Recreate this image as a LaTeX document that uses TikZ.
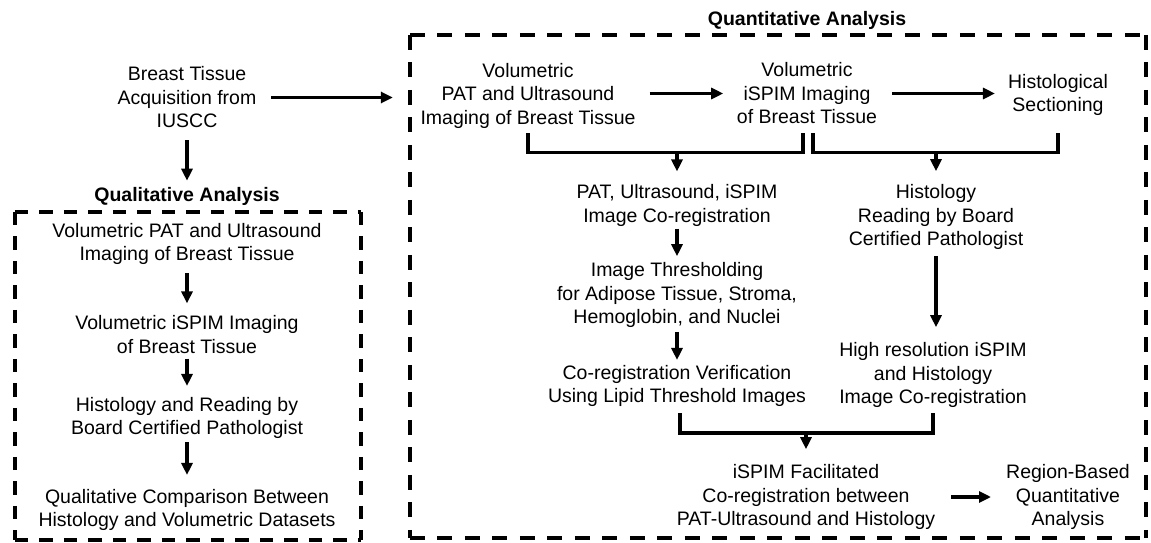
\documentclass[tikz,border=0pt]{standalone}
\usepackage{fontspec}
\setmainfont{Liberation Sans}
\usetikzlibrary{arrows.meta,calc}
\begin{document}
\begin{tikzpicture}[x=1pt,y=-1pt,
  txt/.style={font=\fontsize{19.5}{23.5}\selectfont, align=center, inner sep=0pt},
  ttl/.style={txt, font=\fontsize{19.5}{23.5}\selectfont\bfseries},
  arr/.style={line width=3.3pt, -{Triangle[length=12pt,width=11pt]}},
  conn/.style={line width=3.3pt},
  boxarea/.style={inner sep=0pt},
  rdash/.style={line width=4pt, dash pattern=on 15pt off 12.5pt},
  ldash/.style={line width=4pt, dash pattern=on 13.5pt off 11pt}]
\useasboundingbox (0,0) rectangle (1151,543);
% boxes
\node[boxarea, minimum width=736pt, minimum height=503pt] (qbox) at (778,286.5) {};
\node[boxarea, minimum width=346pt, minimum height=328pt] (lbox) at (188,376) {};
\draw[rdash] (qbox.north west) -- (qbox.north east);
\draw[rdash] (qbox.north west) -- (qbox.south west);
\draw[rdash] (qbox.north east) -- (qbox.south east);
\draw[rdash] (qbox.south west) -- (qbox.south east);
\draw[ldash] (lbox.north west) -- (lbox.north east);
\draw[ldash] (lbox.north west) -- (lbox.south west);
\draw[ldash] (lbox.north east) -- (lbox.south east);
\draw[ldash] (lbox.south west) -- (lbox.south east);
% left part
\node[txt] (acq) at (187,97.5) {Breast Tissue\\Acquisition from\\IUSCC};
\node[ttl] (qt) at (187,196) {Qualitative Analysis};
\node[txt] (L1) at (187,244) {Volumetric PAT and Ultrasound\\Imaging of Breast Tissue};
\node[txt] (L2) at (187,334.5) {Volumetric iSPIM Imaging\\of Breast Tissue};
\node[txt] (L3) at (187,418) {Histology and Reading by\\Board Certified Pathologist};
\node[txt] (L4) at (187,510) {Qualitative Comparison Between\\Histology and Volumetric Datasets};
% right part
\node[ttl] (nt) at (807,20) {Quantitative Analysis};
\node[txt] (R1) at (528,95.5) {Volumetric\\PAT and Ultrasound\\Imaging of Breast Tissue};
\node[txt] (R2) at (807,93.5) {Volumetric\\iSPIM Imaging\\of Breast Tissue};
\node[txt] (R3) at (1058,95) {Histological\\Sectioning};
\node[txt] (C1) at (677,205.5) {PAT, Ultrasound, iSPIM\\Image Co-registration};
\node[txt] (C2) at (677,295) {Image Thresholding\\for Adipose Tissue, Stroma,\\Hemoglobin, and Nuclei};
\node[txt] (C3) at (677,386) {Co-registration Verification\\Using Lipid Threshold Images};
\node[txt] (H1) at (936,217) {Histology\\Reading by Board\\Certified Pathologist};
\node[txt] (H2) at (933,375) {High resolution iSPIM\\and Histology\\Image Co-registration};
\node[txt] (F) at (806,497) {iSPIM Facilitated\\Co-registration between\\PAT-Ultrasound and Histology};
\node[txt] (Q) at (1068,497) {Region-Based\\Quantitative\\Analysis};
% left arrows
\draw[arr, shorten <=14.6pt, shorten >=17pt] (acq.east) -- (acq.east -| qbox.west);
\draw[arr, shorten <=12pt, shorten >=6pt] (acq.south) -- (qt.north);
\draw[arr, shorten <=8pt, shorten >=12pt] (L1.south) -- (L2.north);
\draw[arr, shorten <=5pt, shorten >=11pt] (L2.south) -- (L3.north);
\draw[arr, shorten <=3pt, shorten >=14pt] (L3.south) -- (L4.north);
% top row
\draw[arr, shorten <=14pt, shorten >=13.5pt] (R2.west -| R1.east) -- (R2.west);
\draw[arr, shorten <=15pt, shorten >=13pt] (R2.east) -- (R2.east -| R3.west);
% brackets
\coordinate (j1) at ($(R1.south)+(0,24)$);
\draw[conn] ($(j1 -| R1.south)+(0,-19)$) -- (j1 -| R1.south) -- ($(j1 -| R2.south)+(-4,0)$) -- ++(0,-19);
\draw[conn] ($(j1 -| R2.south)+(6,-19)$) -- ++(0,19) -- (j1 -| R3.south) -- ++(0,-19);
\draw[arr, shorten >=13pt] (j1 -| C1.north) -- (C1.north);
\draw[arr, shorten >=13pt] (j1 -| H1.north) -- (H1.north);
% middle
\draw[arr, shorten <=2pt, shorten >=6pt] (C1.south) -- (C2.north);
\draw[arr, shorten <=4pt, shorten >=5pt] (C2.south) -- (C3.north);
\draw[arr, shorten <=6pt, shorten >=15pt] (H1.south) -- (H1.south |- H2.north);
\coordinate (j3) at ($(C3.south)+(0,26)$);
\draw[conn] ($(j3 -| C3.south)+(3,-20)$) -- ++(0,20) -- (j3 -| H2.south) -- ++(0,-20);
\draw[arr, shorten >=15pt] (j3 -| F.north) -- (F.north);
\draw[arr, shorten <=16pt, shorten >=15pt] (F.east) -- (Q.west);
\end{tikzpicture}
\end{document}
